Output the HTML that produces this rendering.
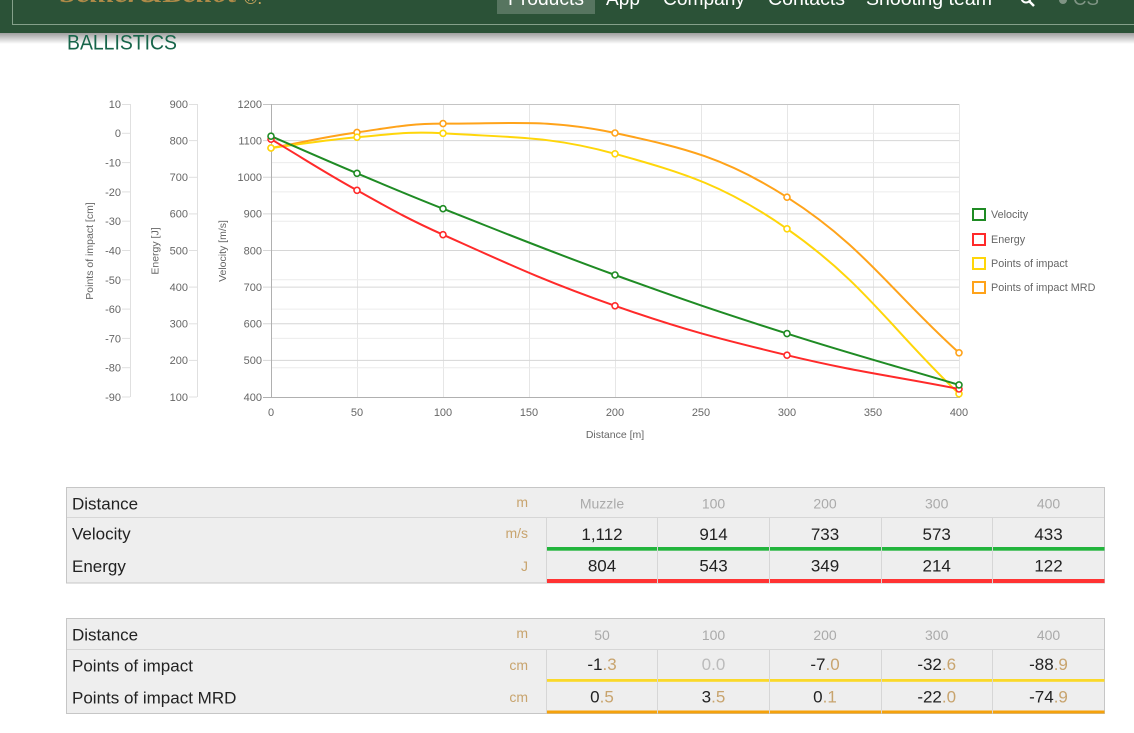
<!DOCTYPE html>
<html><head><meta charset="utf-8"><style>
html,body{margin:0;padding:0;background:#fff;width:1134px;height:733px;overflow:hidden}
svg{display:block;font-family:"Liberation Sans",Arial,sans-serif}
</style></head><body>
<svg width="1134" height="733" viewBox="0 0 1134 733" xmlns="http://www.w3.org/2000/svg">
<defs>
<linearGradient id="sh" x1="0" y1="0" x2="0" y2="1"><stop offset="0" stop-color="#000" stop-opacity="0.38"/><stop offset="1" stop-color="#000" stop-opacity="0"/></linearGradient>
<linearGradient id="gold" x1="0" y1="0" x2="0" y2="1"><stop offset="0" stop-color="#f6e2a8"/><stop offset="0.6" stop-color="#caa45c"/><stop offset="1" stop-color="#7a5a22"/></linearGradient>
</defs>
<!-- header -->
<rect x="0" y="0" width="1134" height="33" fill="#2b5237"/>
<rect x="0" y="33" width="1134" height="11" fill="url(#sh)"/>
<path d="M12.5,0 V24.5 H1134" fill="none" stroke="#85a08a" stroke-width="1"/>
<rect x="497" y="0" width="98" height="14" fill="#577560"/>
<text x="60" y="2" font-family="Liberation Serif,serif" font-style="italic" font-weight="bold" font-size="28" fill="url(#gold)" textLength="176" lengthAdjust="spacingAndGlyphs">Sellier&amp;Bellot</text>
<text x="244" y="4" font-size="18" fill="#c9a65e">®.</text>
<g fill="#ffffff" font-size="19">
<text x="508" y="5" textLength="76" lengthAdjust="spacingAndGlyphs">Products</text>
<text x="606" y="5" textLength="34" lengthAdjust="spacingAndGlyphs">App</text>
<text x="663" y="5" textLength="82" lengthAdjust="spacingAndGlyphs">Company</text>
<text x="768" y="5" textLength="77" lengthAdjust="spacingAndGlyphs">Contacts</text>
<text x="866" y="5" textLength="126" lengthAdjust="spacingAndGlyphs">Shooting team</text>
</g>
<circle cx="1026" cy="-2" r="4.5" fill="none" stroke="#fff" stroke-width="2"/>
<path d="M1029,1 L1034,6" stroke="#fff" stroke-width="2.5"/>
<circle cx="1063" cy="0" r="4" fill="#7f9484"/>
<text x="1073" y="5" font-size="19" fill="#7f9484" textLength="26" lengthAdjust="spacingAndGlyphs">CS</text>
<text x="67" y="49.5" font-size="21" fill="#17654a" textLength="110" lengthAdjust="spacingAndGlyphs">BALLISTICS</text>

<!-- chart grid -->
<g stroke="#e6e6e6" stroke-width="1">
<line x1="357.5" y1="104" x2="357.5" y2="397"/><line x1="443.5" y1="104" x2="443.5" y2="397"/>
<line x1="529.5" y1="104" x2="529.5" y2="397"/><line x1="615.5" y1="104" x2="615.5" y2="397"/>
<line x1="701.5" y1="104" x2="701.5" y2="397"/><line x1="787.5" y1="104" x2="787.5" y2="397"/>
<line x1="873.5" y1="104" x2="873.5" y2="397"/><line x1="959.5" y1="104" x2="959.5" y2="397"/>
</g>
<g stroke="#ececec" stroke-width="1">
<line x1="271" y1="133.3" x2="959" y2="133.3"/><line x1="271" y1="162.6" x2="959" y2="162.6"/>
<line x1="271" y1="191.9" x2="959" y2="191.9"/><line x1="271" y1="221.2" x2="959" y2="221.2"/>
<line x1="271" y1="279.8" x2="959" y2="279.8"/><line x1="271" y1="309.1" x2="959" y2="309.1"/>
<line x1="271" y1="338.4" x2="959" y2="338.4"/><line x1="271" y1="367.7" x2="959" y2="367.7"/>
</g>
<g stroke="#d6d6d6" stroke-width="1">
<line x1="263" y1="140.6" x2="959" y2="140.6"/><line x1="263" y1="177.3" x2="959" y2="177.3"/>
<line x1="263" y1="213.9" x2="959" y2="213.9"/><line x1="263" y1="250.5" x2="959" y2="250.5"/>
<line x1="263" y1="287.1" x2="959" y2="287.1"/><line x1="263" y1="323.8" x2="959" y2="323.8"/>
<line x1="263" y1="360.4" x2="959" y2="360.4"/>
</g>
<line x1="263" y1="104.5" x2="959" y2="104.5" stroke="#c4c4c4"/>
<line x1="271.5" y1="104" x2="271.5" y2="397" stroke="#b0b0b0"/>
<line x1="263" y1="397.5" x2="960" y2="397.5" stroke="#b0b0b0"/>
<!-- POI axis -->
<g stroke="#e0e0e0">
<line x1="130.5" y1="104" x2="130.5" y2="397"/>
<line x1="122" y1="104.5" x2="130" y2="104.5"/><line x1="122" y1="133.3" x2="130" y2="133.3"/>
<line x1="122" y1="162.6" x2="130" y2="162.6"/><line x1="122" y1="191.9" x2="130" y2="191.9"/>
<line x1="122" y1="221.2" x2="130" y2="221.2"/><line x1="122" y1="250.5" x2="130" y2="250.5"/>
<line x1="122" y1="279.8" x2="130" y2="279.8"/><line x1="122" y1="309.1" x2="130" y2="309.1"/>
<line x1="122" y1="338.4" x2="130" y2="338.4"/><line x1="122" y1="367.7" x2="130" y2="367.7"/>
<line x1="122" y1="397" x2="130" y2="397"/>
</g>
<!-- Energy axis -->
<g stroke="#e0e0e0">
<line x1="197.5" y1="104" x2="197.5" y2="397"/>
<line x1="189" y1="104.5" x2="197" y2="104.5"/><line x1="189" y1="140.6" x2="197" y2="140.6"/>
<line x1="189" y1="177.3" x2="197" y2="177.3"/><line x1="189" y1="213.9" x2="197" y2="213.9"/>
<line x1="189" y1="250.5" x2="197" y2="250.5"/><line x1="189" y1="287.1" x2="197" y2="287.1"/>
<line x1="189" y1="323.8" x2="197" y2="323.8"/><line x1="189" y1="360.4" x2="197" y2="360.4"/>
<line x1="189" y1="397" x2="197" y2="397"/>
</g>
<g font-size="11" fill="#666" text-anchor="end">
<text x="121" y="108">10</text><text x="121" y="137">0</text><text x="121" y="166.5">-10</text>
<text x="121" y="196">-20</text><text x="121" y="225">-30</text><text x="121" y="254.5">-40</text>
<text x="121" y="284">-50</text><text x="121" y="313">-60</text><text x="121" y="342.5">-70</text>
<text x="121" y="371.5">-80</text><text x="121" y="401">-90</text>
<text x="188" y="108">900</text><text x="188" y="144.5">800</text><text x="188" y="181">700</text>
<text x="188" y="217.5">600</text><text x="188" y="254.5">500</text><text x="188" y="291">400</text>
<text x="188" y="327.5">300</text><text x="188" y="364">200</text><text x="188" y="401">100</text>
<text x="262" y="108">1200</text><text x="262" y="144.5">1100</text><text x="262" y="181">1000</text>
<text x="262" y="217.5">900</text><text x="262" y="254.5">800</text><text x="262" y="291">700</text>
<text x="262" y="327.5">600</text><text x="262" y="364">500</text><text x="262" y="401">400</text>
</g>
<g font-size="11" fill="#666" text-anchor="middle">
<text x="271" y="416">0</text><text x="357" y="416">50</text><text x="443" y="416">100</text>
<text x="529" y="416">150</text><text x="615" y="416">200</text><text x="701" y="416">250</text>
<text x="787" y="416">300</text><text x="873" y="416">350</text><text x="959" y="416">400</text>
</g>
<g font-size="10.5" fill="#666" text-anchor="middle">
<text transform="translate(93,251) rotate(-90)">Points of impact [cm]</text>
<text transform="translate(158.5,251) rotate(-90)">Energy [J]</text>
<text transform="translate(226,251) rotate(-90)">Velocity [m/s]</text>
<text x="615" y="438">Distance [m]</text>
</g>
<!-- series -->
<g fill="none" stroke-width="2">
<path stroke="#ffa31a" d="M271,148 C305.4,141.8 322.4,137.3 357,132.4 C391.2,127.6 408.5,123.5 443,123.6 C511.7,123.8 548.4,118.8 615,133 C686,148.2 726.2,158.3 787,197.2 C863.8,246.3 890.2,290.6 959,352.8"/>
<path stroke="#ffd60a" d="M271,148 C305.4,143.7 322.5,140.2 357,137.2 C391.3,134.3 408.7,131.1 443,133.3 C511.9,137.7 549,135.6 615,153.8 C686.6,173.6 726.4,186.5 787,228.8 C864,282.5 890.2,327.8 959,393.8"/>
<path stroke="#ff2a2a" d="M271,139.2 C305.4,159.6 322,170.9 357,190.3 C390.8,209.1 407.7,218.9 443,234.7 C510.9,265.1 544.9,281.2 615,305.8 C682.5,329.4 717.5,338.4 787,355.2 C855.1,371.7 890.2,375.5 959,389"/>
<path stroke="#1f8b24" d="M271,136.2 C305.4,151 322.5,158.8 357,173.3 C391.3,187.8 408.4,195.1 443,208.7 C511.6,235.7 545.7,249.9 615,275 C683.3,299.8 717.8,311.5 787,333.6 C855.4,355.5 890.2,364.4 959,384.9"/>
</g>
<g fill="#fff" stroke-width="1.6">
<g stroke="#ffa31a"><circle cx="271" cy="148" r="3"/><circle cx="357" cy="132.4" r="3"/><circle cx="443" cy="123.6" r="3"/><circle cx="615" cy="133" r="3"/><circle cx="787" cy="197.2" r="3"/><circle cx="959" cy="352.8" r="3"/></g>
<g stroke="#ffd60a"><circle cx="271" cy="148" r="3"/><circle cx="357" cy="137.2" r="3"/><circle cx="443" cy="133.3" r="3"/><circle cx="615" cy="153.8" r="3"/><circle cx="787" cy="228.8" r="3"/><circle cx="959" cy="393.8" r="3"/></g>
<g stroke="#ff2a2a"><circle cx="271" cy="139.2" r="3"/><circle cx="357" cy="190.3" r="3"/><circle cx="443" cy="234.7" r="3"/><circle cx="615" cy="305.8" r="3"/><circle cx="787" cy="355.2" r="3"/><circle cx="959" cy="389" r="3"/></g>
<g stroke="#1f8b24"><circle cx="271" cy="136.2" r="3"/><circle cx="357" cy="173.3" r="3"/><circle cx="443" cy="208.7" r="3"/><circle cx="615" cy="275" r="3"/><circle cx="787" cy="333.6" r="3"/><circle cx="959" cy="384.9" r="3"/></g>
</g>
<!-- legend -->
<g fill="none" stroke-width="2">
<rect x="973" y="209" width="12" height="11" stroke="#1f8b24"/>
<rect x="973" y="234" width="12" height="11" stroke="#ff2a2a"/>
<rect x="973" y="258" width="12" height="11" stroke="#ffd60a"/>
<rect x="973" y="282" width="12" height="11" stroke="#ffa31a"/>
</g>
<g font-size="10.8" fill="#666">
<text x="991" y="218">Velocity</text>
<text x="991" y="243">Energy</text>
<text x="991" y="267">Points of impact</text>
<text x="991" y="291">Points of impact MRD</text>
</g>

<!-- table 1 -->
<rect x="66.5" y="487.5" width="1038" height="95.5" fill="#eeeeee" stroke="#c6c6c6"/>
<line x1="67" y1="517.5" x2="1104" y2="517.5" stroke="#d6d6d6"/>
<g stroke="#d6d6d6"><line x1="546.5" y1="518" x2="546.5" y2="583"/><line x1="657.5" y1="518" x2="657.5" y2="583"/><line x1="769.5" y1="518" x2="769.5" y2="583"/><line x1="881.5" y1="518" x2="881.5" y2="583"/><line x1="992.5" y1="518" x2="992.5" y2="583"/></g>
<g fill="#22b43c"><rect x="547" y="547" width="110" height="3.7"/><rect x="658" y="547" width="111" height="3.7"/><rect x="770" y="547" width="111" height="3.7"/><rect x="882" y="547" width="110" height="3.7"/><rect x="993" y="547" width="111.5" height="3.7"/></g>
<g fill="#ff3333"><rect x="547" y="579" width="110" height="4"/><rect x="658" y="579" width="111" height="4"/><rect x="770" y="579" width="111" height="4"/><rect x="882" y="579" width="110" height="4"/><rect x="993" y="579" width="111.5" height="4"/></g>
<g font-size="17" fill="#222">
<text x="72" y="509.3">Distance</text><text x="72" y="539.3">Velocity</text><text x="72" y="572">Energy</text>
</g>
<g font-size="14" fill="#c8a46e" text-anchor="end">
<text x="528" y="507">m</text><text x="528" y="538">m/s</text><text x="528" y="571">J</text>
</g>
<g font-size="14" fill="#aaaaaa" text-anchor="middle">
<text x="602" y="508.5">Muzzle</text><text x="713.5" y="508.5">100</text><text x="825" y="508.5">200</text><text x="936.7" y="508.5">300</text><text x="1048.5" y="508.5">400</text>
</g>
<g font-size="17" fill="#222" text-anchor="middle">
<text x="602" y="540">1,112</text><text x="713.5" y="540">914</text><text x="825" y="540">733</text><text x="936.7" y="540">573</text><text x="1048.5" y="540">433</text>
<text x="602" y="571.5">804</text><text x="713.5" y="571.5">543</text><text x="825" y="571.5">349</text><text x="936.7" y="571.5">214</text><text x="1048.5" y="571.5">122</text>
</g>

<!-- table 2 -->
<rect x="66.5" y="618.5" width="1038" height="95" fill="#eeeeee" stroke="#c6c6c6"/>
<line x1="67" y1="649.5" x2="1104" y2="649.5" stroke="#d6d6d6"/>
<g stroke="#d6d6d6"><line x1="546.5" y1="650" x2="546.5" y2="713"/><line x1="657.5" y1="650" x2="657.5" y2="713"/><line x1="769.5" y1="650" x2="769.5" y2="713"/><line x1="881.5" y1="650" x2="881.5" y2="713"/><line x1="992.5" y1="650" x2="992.5" y2="713"/></g>
<g fill="#fad92a"><rect x="547" y="679" width="110" height="2.8"/><rect x="658" y="679" width="111" height="2.8"/><rect x="770" y="679" width="111" height="2.8"/><rect x="882" y="679" width="110" height="2.8"/><rect x="993" y="679" width="111.5" height="2.8"/></g>
<g fill="#f5a20c"><rect x="547" y="710.5" width="110" height="3"/><rect x="658" y="710.5" width="111" height="3"/><rect x="770" y="710.5" width="111" height="3"/><rect x="882" y="710.5" width="110" height="3"/><rect x="993" y="710.5" width="111.5" height="3"/></g>
<g font-size="17" fill="#222">
<text x="72" y="640.7">Distance</text><text x="72" y="671.5">Points of impact</text><text x="72" y="703.3">Points of impact MRD</text>
</g>
<g font-size="14" fill="#c8a46e" text-anchor="end">
<text x="528" y="638">m</text><text x="528" y="670">cm</text><text x="528" y="702">cm</text>
</g>
<g font-size="14" fill="#aaaaaa" text-anchor="middle">
<text x="602" y="640">50</text><text x="713.5" y="640">100</text><text x="825" y="640">200</text><text x="936.7" y="640">300</text><text x="1048.5" y="640">400</text>
</g>
<g font-size="17" fill="#222" text-anchor="middle">
<text x="602" y="670">-1<tspan fill="#c8a46e">.3</tspan></text>
<text x="713.5" y="670" fill="#bbbbbb">0.0</text>
<text x="825" y="670">-7<tspan fill="#c8a46e">.0</tspan></text>
<text x="936.7" y="670">-32<tspan fill="#c8a46e">.6</tspan></text>
<text x="1048.5" y="670">-88<tspan fill="#c8a46e">.9</tspan></text>
<text x="602" y="702.5">0<tspan fill="#c8a46e">.5</tspan></text>
<text x="713.5" y="702.5">3<tspan fill="#c8a46e">.5</tspan></text>
<text x="825" y="702.5">0<tspan fill="#c8a46e">.1</tspan></text>
<text x="936.7" y="702.5">-22<tspan fill="#c8a46e">.0</tspan></text>
<text x="1048.5" y="702.5">-74<tspan fill="#c8a46e">.9</tspan></text>
</g>
</svg>
</body></html>
